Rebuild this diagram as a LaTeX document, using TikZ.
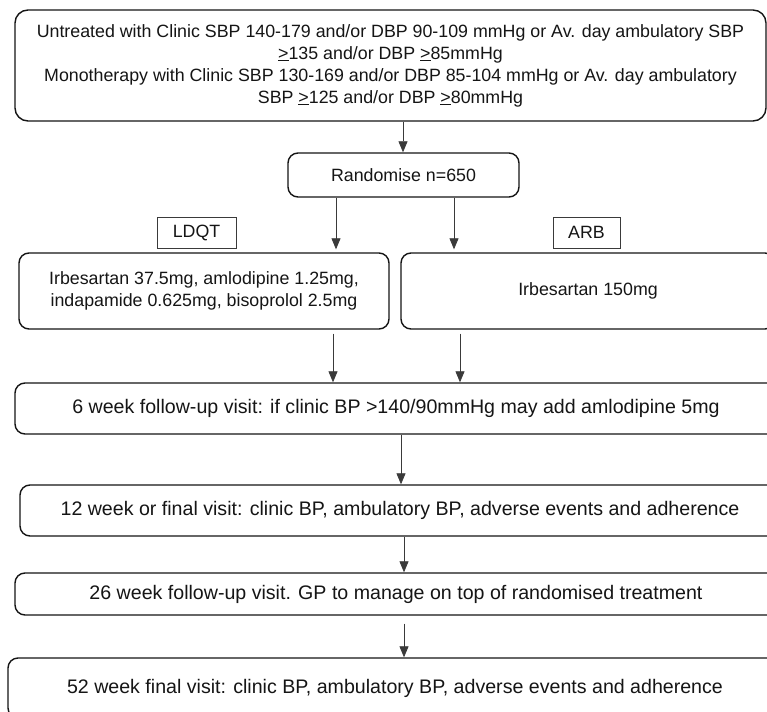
\documentclass[tikz,border=0pt]{standalone}
\usepackage{fontspec}
\setmainfont{Liberation Sans}
\usetikzlibrary{arrows.meta}
\definecolor{ink}{HTML}{151515}
\definecolor{lineg}{HTML}{3A3A3A}
\begin{document}
\begin{tikzpicture}[x=1pt,y=-1pt,
  every node/.style={font=\fontsize{17.8}{22}\selectfont, text=ink},
  rbox/.style={draw=ink, line width=1.4pt, rounded corners=10pt, inner sep=0pt, align=center},
  wbox/.style={rbox, font=\fontsize{19.6}{22}\selectfont},
  lbox/.style={draw=lineg, line width=0.8pt, inner sep=0pt},
  arr/.style={draw=lineg, line width=0.8pt, -{Triangle[width=9pt,length=11pt]}}
]
\clip (0,0) rectangle (767,711);
\fill[white] (0,0) rectangle (767,711);

\node[rbox, rounded corners=13pt, minimum width=751pt, minimum height=111pt] (top) at (390.5,65.5)
 {Untreated with Clinic SBP 140-179 and/or DBP 90-109 mmHg or Av. day ambulatory SBP\\
  \underline{>}135 and/or DBP \underline{>}85mmHg\\
  Monotherapy with Clinic SBP 130-169 and/or DBP 85-104 mmHg or Av. day ambulatory\\
  SBP \underline{>}125 and/or DBP \underline{>}80mmHg};

\node[rbox, minimum width=231pt, minimum height=44pt] (rand) at (403.5,175) {Randomise n=650};

\node[lbox, minimum width=79pt, minimum height=31pt] (ldqt) at (196.5,232.5) {LDQT};
\node[lbox, minimum width=67pt, minimum height=31pt] (arb) at (586.5,232.5) {ARB};

\node[rbox, minimum width=370pt, minimum height=76pt] (tl) at (204,291)
 {Irbesartan 37.5mg, amlodipine 1.25mg,\\ indapamide 0.625mg, bisoprolol 2.5mg};
\node[rbox, minimum width=374pt, minimum height=76pt] (tr) at (588,291) {Irbesartan 150mg};

\node[wbox, minimum width=762pt, minimum height=51pt] (w6) at (396,408.5)
 {6 week follow-up visit: if clinic BP >140/90mmHg may add amlodipine 5mg};
\node[wbox, minimum width=760pt, minimum height=51pt] (w12) at (400,510.5)
 {12 week or final visit: clinic BP, ambulatory BP, adverse events and adherence};
\node[wbox, minimum width=762pt, minimum height=42pt] (w26) at (396,594)
 {26 week follow-up visit. GP to manage on top of randomised treatment};
\node[wbox, minimum width=774pt, minimum height=60pt] (w52) at (395,688)
 {52 week final visit: clinic BP, ambulatory BP, adverse events and adherence};

\coordinate (c0) at (403,0);
\coordinate (c1) at (336,0);
\coordinate (c2) at (454,0);
\coordinate (c3) at (333,0);
\coordinate (c4) at (460,0);
\coordinate (c5) at (401,0);
\coordinate (c6) at (404,0);

\draw[arr] (top.south -| c0) -- (rand.north -| c0);
\draw[arr, shorten >=3pt] (rand.south -| c1) -- (tl.north -| c1);
\draw[arr, shorten >=3pt] (rand.south -| c2) -- (tr.north -| c2);
\draw[arr, shorten <=4pt] (tl.south -| c3) -- (w6.north -| c3);
\draw[arr, shorten <=4pt] (tr.south -| c4) -- (w6.north -| c4);
\draw[arr] (w6.south -| c5) -- (w12.north -| c5);
\draw[arr] (w12.south -| c6) -- (w26.north -| c6);
\draw[arr, shorten <=8pt] (w26.south -| c6) -- (w52.north -| c6);
\end{tikzpicture}
\end{document}
